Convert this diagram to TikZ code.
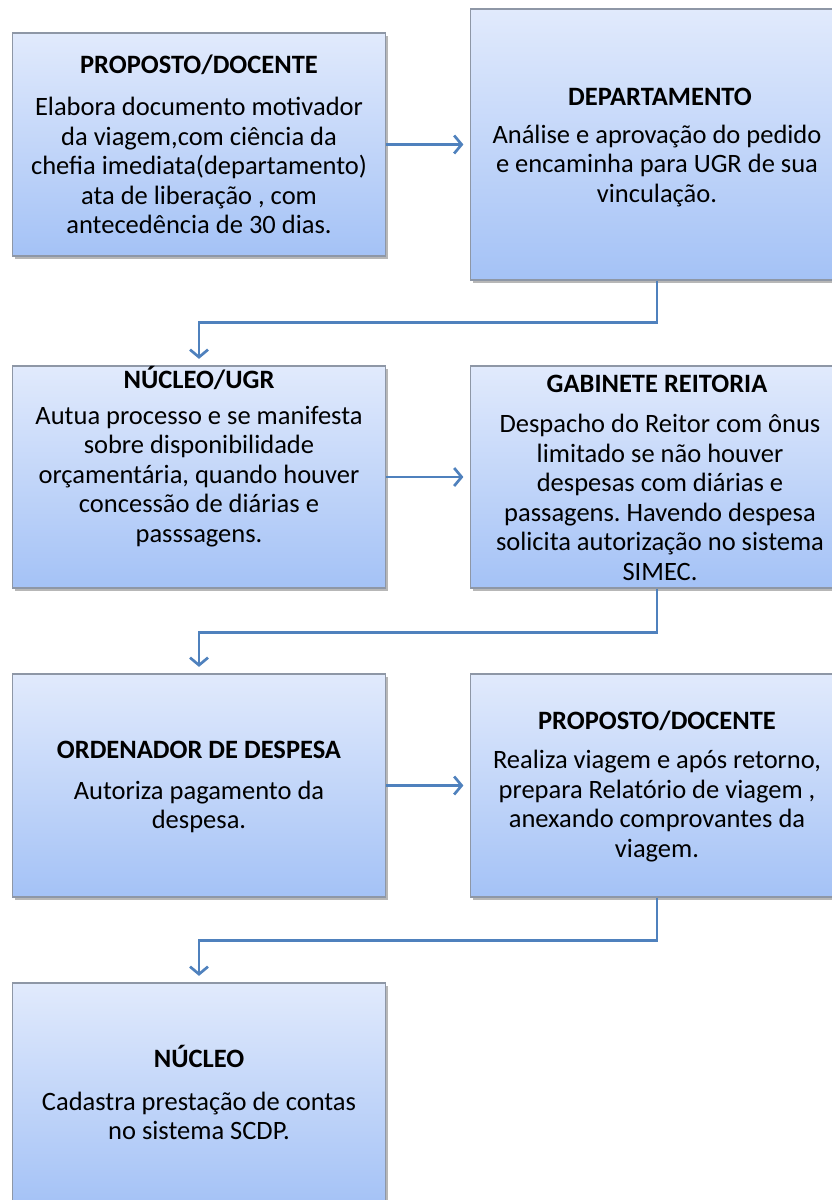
\documentclass[tikz,border=0pt]{standalone}
\usepackage{fontspec}
\setmainfont{Carlito}
\frenchspacing
\usetikzlibrary{shadows,arrows.meta,calc}
\definecolor{boxtop}{HTML}{E1EAFC}
\definecolor{boxbot}{HTML}{A4C2F6}
\definecolor{boxline}{HTML}{8E97A6}
\definecolor{connblue}{HTML}{4F81BD}
\tikzset{
  flowbox/.style={rectangle, draw=boxline, line width=1.2pt, top color=boxtop, bottom color=boxbot,
    minimum width=373pt, inner sep=0pt,
    drop shadow={shadow xshift=2.5pt, shadow yshift=-2.5pt, opacity=0.4, fill=black!70}},
  ttl/.style={font=\fontsize{26.5}{29.5}\selectfont\bfseries, anchor=base, inner sep=0pt},
  bodytext/.style={font=\fontsize{26.5}{29.5}\selectfont, align=center, anchor=center, inner sep=0pt},
  connector/.style={draw=connblue, line width=2.7pt, -{Straight Barb[length=7.5pt,width=18pt]}, shorten >=6.5pt},
}
\begin{document}
\begin{tikzpicture}[x=1pt,y=-1pt]
\useasboundingbox (0,0) rectangle (831,1200);
% boxes
\node[flowbox, minimum height=223pt] (b1) at (199,144.5) {};
\node[flowbox, minimum height=271pt] (b2) at (657,144.5) {};
\node[flowbox, minimum height=222pt] (b3) at (199,477) {};
\node[flowbox, minimum height=222pt] (b4) at (657,477) {};
\node[flowbox, minimum height=223pt] (b5) at (199,785.5) {};
\node[flowbox, minimum height=223pt] (b6) at (657,785.5) {};
\node[flowbox, minimum height=223pt] (b7) at (199,1094.5) {};
% texts
\node[ttl] (t1) at (199,73.5) {PROPOSTO/DOCENTE};
\node[bodytext] (d1) at (199,165.5) {Elabora documento motivador\\da viagem,com ciência da\\chefia imediata(departamento)\\ata de liberação , com\\antecedência de 30 dias.};
\node[ttl] (t2) at (660,105.5) {DEPARTAMENTO};
\node[bodytext] (d2) at (657,166) {Análise e aprovação do pedido\\e encaminha para UGR de sua\\vinculação.};
\node[ttl] (t3) at (199,388.5) {NÚCLEO/UGR};
\node[bodytext] (d3) at (199,476.5) {Autua processo e se manifesta\\sobre disponibilidade\\orçamentária, quando houver\\concessão de diárias e\\passsagens.};
\node[ttl] (t4) at (657,392.5) {GABINETE REITORIA};
\node[bodytext] (d4) at (660,497.5) {Despacho do Reitor com ônus\\limitado se não houver\\despesas com diárias e\\passagens. Havendo despesa\\solicita autorização no sistema\\SIMEC.};
\node[ttl] (t5) at (199,758.5) {ORDENADOR DE DESPESA};
\node[bodytext] (d5) at (199,807) {Autoriza pagamento da\\despesa.};
\node[ttl] (t6) at (657,729.5) {PROPOSTO/DOCENTE};
\node[bodytext] (d6) at (657,806) {Realiza viagem e após retorno,\\prepara Relatório de viagem ,\\anexando comprovantes da\\viagem.};
\node[ttl] (t7) at (199,1067.5) {NÚCLEO};
\node[bodytext] (d7) at (199,1116) {Cadastra prestação de contas\\no sistema SCDP.};
% connectors
\draw[connector] (b1) -- (b2);
\draw[connector] (b3) -- (b4);
\draw[connector] (b5) -- (b6);
\draw[connector] (b2.south) -- ++(0,42) -| (b3.north);
\draw[connector] (b4.south) -- ++(0,44) -| (b5.north);
\draw[connector] (b6.south) -- ++(0,43) -| (b7.north);
\end{tikzpicture}
\end{document}
